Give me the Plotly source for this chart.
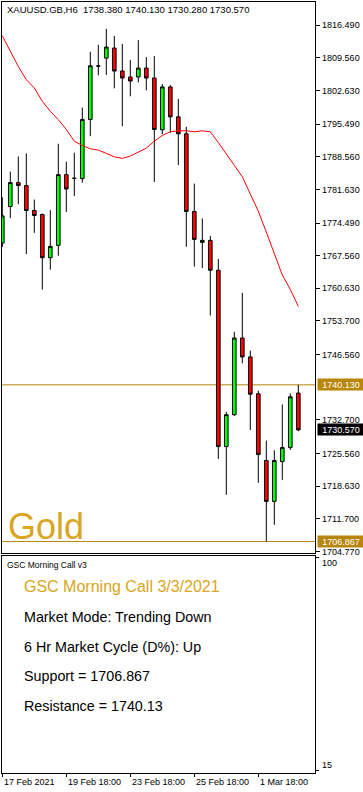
import plotly.graph_objects as go

W, H = 363, 792

# ---- data ----
bars = list(range(38))
opens = [1770.23, 1777.99, 1783.07, 1782.44, 1777.15, 1776.30, 1767.12, 1769.74, 1784.76, 1783.98,
         1783.92, 1796.46, 1807.82, 1809.51, 1811.63, 1806.76, 1805.49, 1805.49, 1807.39, 1805.28,
         1794.28, 1803.38, 1797.03, 1793.43, 1776.94, 1770.38, 1770.80, 1764.46, 1727.02, 1733.79,
         1750.07, 1746.05, 1738.23, 1724.06, 1715.38, 1723.84, 1726.81, 1738.38]
highs = [1779.96, 1785.40, 1788.63, 1789.27, 1779.47, 1776.51, 1777.21, 1791.32, 1787.51, 1789.42,
         1799.00, 1810.84, 1812.32, 1815.71, 1814.23, 1812.53, 1809.09, 1813.32, 1809.72, 1809.93,
         1804.01, 1803.80, 1800.84, 1794.91, 1782.86, 1775.46, 1771.77, 1766.85, 1734.42, 1751.41,
         1759.65, 1747.39, 1738.86, 1728.29, 1726.23, 1735.96, 1738.29, 1740.13]
lows = [1769.38, 1775.52, 1778.48, 1767.90, 1772.41, 1760.35, 1764.58, 1767.54, 1776.85, 1780.24,
        1783.07, 1792.93, 1805.87, 1805.91, 1803.08, 1795.04, 1801.39, 1804.35, 1802.66, 1783.20,
        1793.35, 1793.65, 1786.79, 1769.45, 1765.22, 1764.94, 1754.85, 1724.39, 1716.78, 1733.50,
        1744.70, 1730.53, 1719.32, 1706.867, 1710.43, 1719.95, 1726.30, 1730.28]
closes = [1776.00, 1783.07, 1782.44, 1777.15, 1776.09, 1767.12, 1769.53, 1784.76, 1781.72, 1783.98,
          1796.46, 1807.88, 1807.82, 1811.84, 1806.76, 1805.28, 1804.64, 1807.39, 1805.28, 1794.34,
          1803.38, 1797.03, 1793.43, 1776.94, 1771.01, 1770.80, 1764.46, 1727.02, 1733.79, 1750.07,
          1746.05, 1738.14, 1725.32, 1715.38, 1724.06, 1726.81, 1737.59, 1730.57]
ma_values = [1814.23, 1810.91, 1807.73, 1804.92, 1803.16, 1800.33, 1798.21, 1796.46, 1794.34, 1791.87,
             1790.96, 1790.26, 1789.97, 1789.27, 1788.53, 1788.21, 1788.70, 1789.54, 1790.39, 1791.87,
             1793.07, 1793.86, 1794.07, 1794.07, 1793.86, 1794.07, 1793.86, 1791.59, 1789.06, 1786.73,
             1784.30, 1780.59, 1777.00, 1772.56, 1767.90, 1763.46, 1760.39, 1756.80]

price_ticks = [1816.49, 1809.56, 1802.63, 1795.49, 1788.56, 1781.63, 1774.49, 1767.56, 1760.63,
               1753.70, 1746.56, 1732.70, 1725.56, 1718.63, 1711.70, 1704.77]
date_ticks = [0, 8, 16, 24, 32]
date_labels = ["17 Feb 2021", "19 Feb 18:00", "23 Feb 18:00", "25 Feb 18:00", "1 Mar 18:00"]
support = 1706.867
resistance = 1740.13
last_close = 1730.57
osc_ticks = [100, 15]
header = "XAUUSD.GB,H6\u00a0\u00a01738.380 1740.130 1730.280 1730.570"
panel_title = "GSC Morning Call v3"
info_title = "GSC Morning Call 3/3/2021"
info_lines = ["Market Mode: Trending Down", "6 Hr Market Cycle (D%): Up",
              "Support = 1706.867", "Resistance = 1740.13"]

GOLD_LINE = "#B8860B"
GOLD_TEXT = "#DAA520"
FONT = "Liberation Sans, Arial, sans-serif"


def px(xp):
    return xp / W


def py(yp):
    return 1 - yp / H


fig = go.Figure()

fig.add_trace(go.Scatter(
    x=bars, y=ma_values, mode="lines",
    line=dict(color="#FF0000", width=1), hoverinfo="skip", showlegend=False,
    xaxis="x", yaxis="y"))

fig.add_trace(go.Candlestick(
    x=bars, open=opens, high=highs, low=lows, close=closes,
    increasing=dict(line=dict(color="black", width=1), fillcolor="#00FF00"),
    decreasing=dict(line=dict(color="black", width=1), fillcolor="#FF0000"),
    whiskerwidth=0, hoverinfo="skip", showlegend=False,
    xaxis="x", yaxis="y"))

# empty trace so that the lower (indicator) panel exists
fig.add_trace(go.Scatter(x=[], y=[], mode="lines", hoverinfo="skip", showlegend=False,
                         xaxis="x2", yaxis="y2"))

x_left, x_right = 1.5, 315.3
main_top, main_bot = 2.5, 555.5
low_top, low_bot = 558.5, 775.5


def price_at(yp):
    return 1816.49 - (yp - 25.3) / 4.7276


x0 = (x_left - 2.3) / 8
x1 = (x_right - 2.3) / 8

shapes = []
for lvl in (resistance, support):
    shapes.append(dict(type="line", xref="x domain", yref="y", x0=0, x1=1, y0=lvl, y1=lvl,
                       line=dict(color=GOLD_LINE, width=1), layer="below"))

annotations = []
annotations.append(dict(text=header, x=px(5), y=py(10), xref="paper", yref="paper",
                        xanchor="left", yanchor="middle", showarrow=False,
                        font=dict(family=FONT, size=9.5, color="black")))
annotations.append(dict(text="Gold", x=px(5.5), y=py(529), xref="paper", yref="paper",
                        xanchor="left", yanchor="middle", showarrow=False,
                        font=dict(family=FONT, size=36, color=GOLD_TEXT)))

for val, bg in ((resistance, GOLD_LINE), (last_close, "black"), (support, GOLD_LINE)):
    annotations.append(dict(text=f"{val:.3f}", x=px(316.5), y=val, xref="paper", yref="y",
                            xanchor="left", yanchor="middle", showarrow=False,
                            bgcolor=bg, width=44, height=9, borderpad=1, align="center",
                            font=dict(family=FONT, size=9, color="white")))

annotations.append(dict(text=panel_title, x=px(5), y=py(567), xref="paper", yref="paper",
                        xanchor="left", yanchor="middle", showarrow=False,
                        font=dict(family=FONT, size=8.5, color="black")))
annotations.append(dict(text=info_title, x=px(21.5), y=py(589), xref="paper", yref="paper",
                        xanchor="left", yanchor="middle", showarrow=False,
                        font=dict(family=FONT, size=16, color=GOLD_TEXT)))
for i, line in enumerate(info_lines):
    annotations.append(dict(text=line, x=px(21.5), y=py(619 + 30 * i), xref="paper", yref="paper",
                            xanchor="left", yanchor="middle", showarrow=False,
                            font=dict(family=FONT, size=14.3, color="black")))

for lab, yy in zip(["100", "15"], [565, 768]):
    annotations.append(dict(text=lab, x=px(319.5), y=py(yy), xref="paper", yref="paper",
                            xanchor="left", yanchor="middle", showarrow=False,
                            font=dict(family=FONT, size=9, color="black")))

for k, lab in zip(date_ticks, date_labels):
    annotations.append(dict(text=lab, x=k, y=py(784.5), xref="x", yref="paper",
                            xanchor="left", yanchor="middle", showarrow=False, xshift=-0.5,
                            font=dict(family=FONT, size=9, color="black")))

fig.update_layout(
    width=W, height=H, margin=dict(l=0, r=0, t=0, b=0, pad=0),
    paper_bgcolor="white", plot_bgcolor="white", showlegend=False,
    boxgap=0.35, hovermode=False, dragmode=False,
    xaxis=dict(domain=[px(x_left), px(x_right)], range=[x0, x1], anchor="y",
               showgrid=False, zeroline=False, showticklabels=False, ticks="",
               showline=True, mirror=True, linecolor="black", linewidth=1,
               rangeslider=dict(visible=False), fixedrange=True),
    yaxis=dict(domain=[py(main_bot), py(main_top)], range=[price_at(main_bot), price_at(main_top)],
               anchor="x", side="right", showgrid=False, zeroline=False,
               tickvals=price_ticks, ticktext=[f"{v:.3f}" for v in price_ticks],
               ticks="outside", ticklen=4, tickcolor="black", tickwidth=1,
               tickfont=dict(family=FONT, size=9, color="black"),
               showline=True, mirror=True, linecolor="black", linewidth=1, fixedrange=True),
    xaxis2=dict(domain=[px(x_left), px(x_right)], range=[x0, x1], anchor="y2",
                showgrid=False, zeroline=False, showticklabels=False,
                tickvals=date_ticks, ticks="outside", ticklen=3, tickcolor="black",
                showline=True, mirror=True, linecolor="black", linewidth=1, fixedrange=True),
    yaxis2=dict(domain=[py(low_bot), py(low_top)], range=[14.0, 100.6], anchor="x2", side="right",
                showgrid=False, zeroline=False, tickvals=osc_ticks, showticklabels=False,
                ticks="outside", ticklen=3, tickcolor="black",
                showline=True, mirror=True, linecolor="black", linewidth=1, fixedrange=True),
    shapes=shapes, annotations=annotations,
)

fig.write_html("out.html", config={"displayModeBar": False, "staticPlot": True},
               post_script="document.body.style.margin='0';document.body.style.padding='0';"
                           "document.body.style.overflow='hidden';")
